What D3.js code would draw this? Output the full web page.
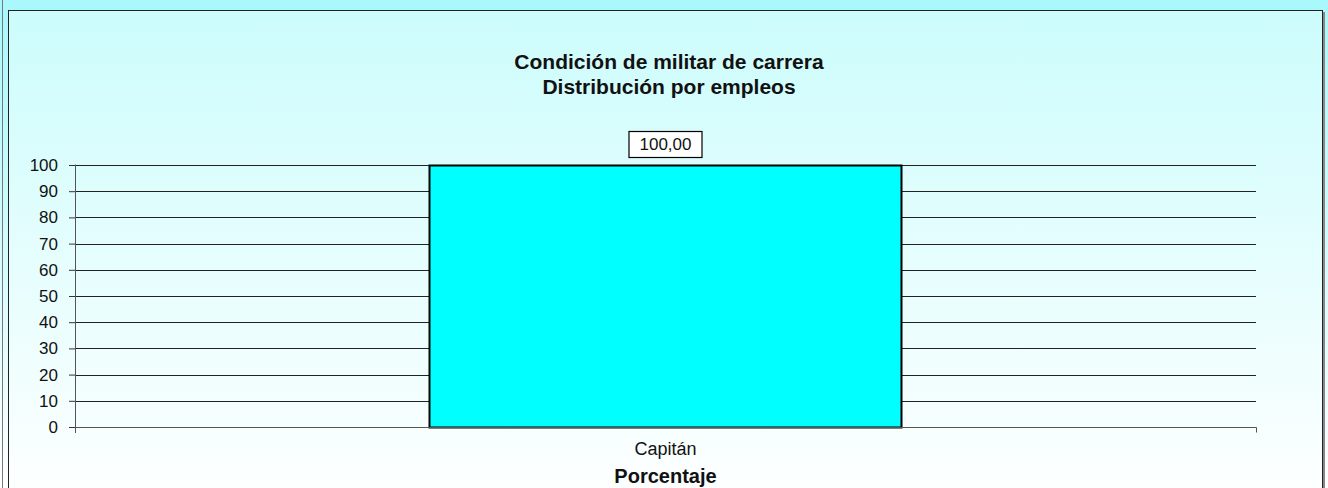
<!DOCTYPE html>
<html>
<head>
<meta charset="utf-8">
<script src="https://cdn.jsdelivr.net/npm/d3@7"></script>
<style>
  body { margin: 0; overflow: hidden; }
  svg { display: block; font-family: "Liberation Sans", Arial, sans-serif; }
</style>
</head>
<body>
<svg id="chart" width="1328" height="488"></svg>
<script>
var width = 1328;
var height = 488;

// data
var categories = ["Capitán"];
var values = [100.00];
var yTicks = [0, 10, 20, 30, 40, 50, 60, 70, 80, 90, 100];
var titleLines = ["Condición de militar de carrera", "Distribución por empleos"];
var axisTitle = "Porcentaje";

var padding = { t: 165, r: 72, b: 61, l: 75 };
var plotW = width - padding.l - padding.r;
var plotH = height - padding.t - padding.b;

var svg = d3.select("#chart");

// gradients
var defs = svg.append("defs");
var g1 = defs.append("linearGradient").attr("id", "pageBg").attr("x1", 0).attr("y1", 0).attr("x2", 0).attr("y2", 1);
g1.append("stop").attr("offset", "0%").attr("stop-color", "#a8f8fc");
g1.append("stop").attr("offset", "100%").attr("stop-color", "#ffffff");
var g2 = defs.append("linearGradient").attr("id", "boxBg").attr("x1", 0).attr("y1", 0).attr("x2", 0).attr("y2", 1);
g2.append("stop").attr("offset", "0%").attr("stop-color", "#ccfcfc");
g2.append("stop").attr("offset", "100%").attr("stop-color", "#ffffff");

svg.append("rect").attr("width", width).attr("height", height).attr("fill", "url(#pageBg)");
svg.append("line").attr("x1", 2.5).attr("x2", 2.5).attr("y1", 0).attr("y2", height)
    .attr("stroke", "#777").attr("stroke-width", 1);

// chart box with shadow
svg.append("rect").attr("x", 10).attr("y", 12).attr("width", 1315).attr("height", 500)
    .attr("fill", "#888");
svg.append("rect").attr("x", 8.5).attr("y", 10.5).attr("width", 1314).attr("height", 500)
    .attr("fill", "url(#boxBg)").attr("stroke", "#222").attr("stroke-width", 1);

// title
svg.append("text")
    .attr("x", 669)
    .attr("y", 69)
    .attr("text-anchor", "middle")
    .style("font-size", "21px")
    .style("font-weight", "bold")
    .attr("fill", "#111")
    .selectAll("tspan")
    .data(titleLines)
    .join("tspan")
    .attr("x", 669)
    .attr("dy", (d, i) => i === 0 ? 0 : 25)
    .text(d => d);

// scales
var xScale = d3.scaleBand().domain(categories).range([0, plotW]).padding(0);
var yScale = d3.scaleLinear().domain([0, 100]).range([plotH, 0]);

var chartGroup = svg.append("g")
    .attr("transform", `translate(${padding.l},${padding.t})`);

// gridlines
chartGroup.selectAll(".grid")
    .data(yTicks)
    .join("line")
    .attr("class", "grid")
    .attr("x1", 0)
    .attr("x2", plotW)
    .attr("y1", d => Math.round(yScale(d)) + 0.5)
    .attr("y2", d => Math.round(yScale(d)) + 0.5)
    .attr("stroke", "#222")
    .attr("stroke-width", 1);

// bars (Excel gap width 150%)
var barW = xScale.bandwidth() / 2.5;
chartGroup.selectAll(".bar")
    .data(values)
    .join("rect")
    .attr("class", "bar")
    .attr("x", (d, i) => Math.round(xScale(categories[i]) + (xScale.bandwidth() - barW) / 2) + 0.5)
    .attr("y", d => Math.round(yScale(d)) + 0.5)
    .attr("width", Math.round(barW))
    .attr("height", d => Math.round(yScale(0)) - Math.round(yScale(d)))
    .attr("fill", "#00ffff")
    .attr("stroke", "#000")
    .attr("stroke-width", 2);

// y axis
var yAxis = d3.axisLeft(yScale).tickValues(yTicks).tickSize(6).tickPadding(11);
var yg = chartGroup.append("g").attr("class", "yAxis").call(yAxis);
yg.select(".domain").attr("d", `M0.5,-0.5V${plotH + 6}`).attr("stroke", "#555");
yg.selectAll(".tick line").attr("stroke", "#333");
yg.selectAll(".tick text").style("font-size", "17px").attr("fill", "#111")
    .attr("font-family", "Liberation Sans, Arial, sans-serif");

// x axis
var xAxis = d3.axisBottom(xScale).tickSize(0).tickPadding(15);
var xg = chartGroup.append("g").attr("class", "xAxis")
    .attr("transform", `translate(0,${Math.round(yScale(0)) + 0.5})`)
    .call(xAxis);
xg.select(".domain").attr("d", `M0,0H${plotW + 0.5}V5`).attr("stroke", "#555");
xg.selectAll(".tick text").style("font-size", "18px").attr("fill", "#111")
    .attr("font-family", "Liberation Sans, Arial, sans-serif");

// value labels
var fmt = d => d.toFixed(2).replace(".", ",");
var lbl = chartGroup.selectAll(".vlabel")
    .data(values)
    .join("g")
    .attr("class", "vlabel")
    .attr("transform", (d, i) => `translate(${xScale(categories[i]) + xScale.bandwidth() / 2},${yScale(d) - 21})`);
lbl.append("rect")
    .attr("x", -36.5).attr("y", -12.5).attr("width", 73).attr("height", 26)
    .attr("fill", "#fff").attr("stroke", "#000").attr("stroke-width", 1.2);
lbl.append("text")
    .attr("text-anchor", "middle")
    .attr("dy", "0.36em")
    .style("font-size", "17px")
    .attr("fill", "#111")
    .text(d => fmt(d));

// axis title
svg.append("text")
    .attr("x", padding.l + plotW / 2)
    .attr("y", 483)
    .attr("text-anchor", "middle")
    .style("font-size", "20px")
    .style("font-weight", "bold")
    .attr("fill", "#111")
    .text(axisTitle);
</script>
</body>
</html>
